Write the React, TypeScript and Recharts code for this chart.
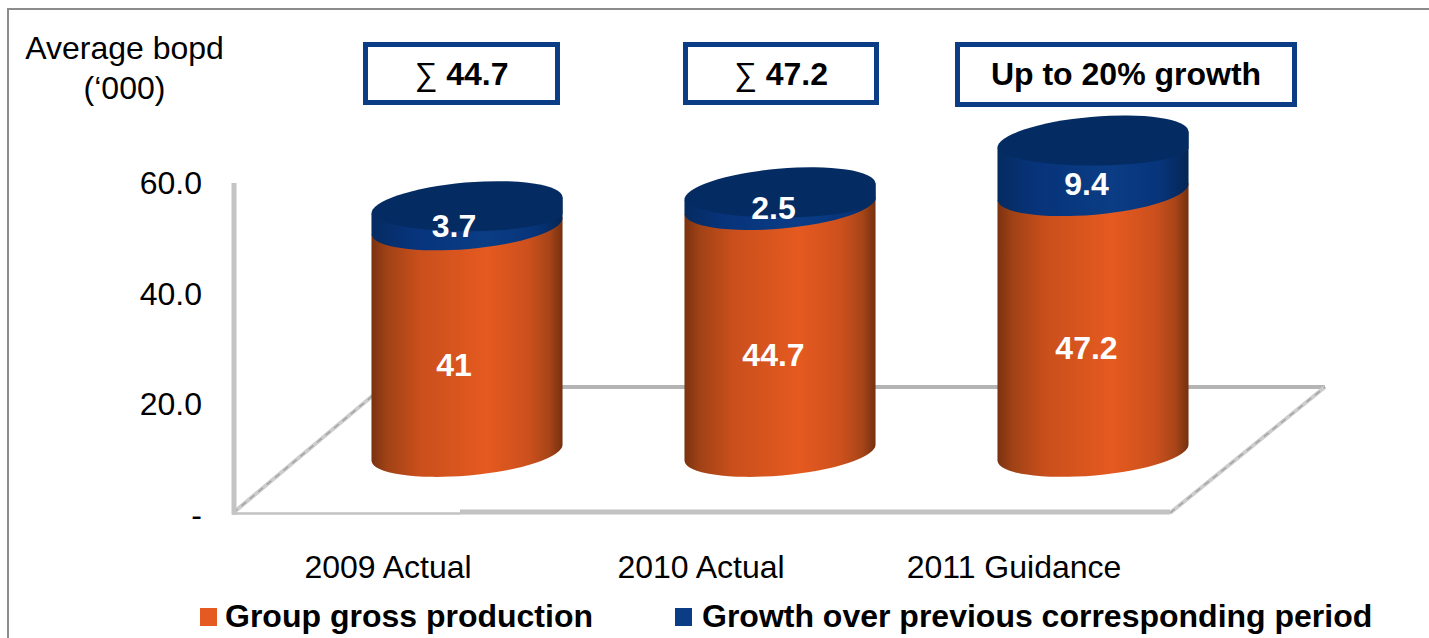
import { Bar, BarChart, LabelList, Legend, XAxis, YAxis } from "recharts";

const WIDTH = 1429;
const HEIGHT = 638;

const periods = ["2009 Actual", "2010 Actual", "2011 Guidance"];
const grossProduction = [41, 44.7, 47.2];
const growth = [3.7, 2.5, 9.4];
const yTicks = [0, 20, 40, 60];
const summaries = [
  { symbol: "∑ ", text: "44.7" },
  { symbol: "∑ ", text: "47.2" },
  { symbol: "", text: "Up to 20% growth" },
];

const data = periods.map((period, i) => ({
  period,
  gross: grossProduction[i],
  growth: growth[i],
}));

// header boxes above the cylinders
const boxFrames = [
  { x: 365.5, y: 44.5, w: 192, h: 58 },
  { x: 685.5, y: 44.5, w: 191, h: 58 },
  { x: 957.5, y: 44.5, w: 337, h: 60 },
];

const ORANGE = "#e55a20";
const BLUE = "#0a3d85";
const FLOOR = "#c2c2c2";

// the cylinders stand on the floor plane, above the axis baseline
const FLOOR_LIFT = 62;
const TILT = 5;
const RY = 23;

function ellipseEnds(cx: number, cy: number, rx: number) {
  const rad = (TILT * Math.PI) / 180;
  const dx = rx * Math.cos(rad);
  const dy = rx * Math.sin(rad);
  return { lx: cx - dx, ly: cy + dy, rx: cx + dx, ry: cy - dy };
}

function Cylinder(props: any) {
  const { x, y, width, height, gradient, capFill } = props;
  const a = width / 2 + 0.4;
  const cx = x + width / 2;
  const top = ellipseEnds(cx, y - FLOOR_LIFT, a);
  const bottom = ellipseEnds(cx, y + height - FLOOR_LIFT, a);
  const arc = `A${a} ${RY} ${-TILT}`;
  // side wall closes along the top chord; the next segment or the cap paints over it
  const side =
    `M${top.lx} ${top.ly} L${bottom.lx} ${bottom.ly} ` +
    `${arc} 0 0 ${bottom.rx} ${bottom.ry} L${top.rx} ${top.ry} Z`;
  // cap: tilted upper rim, flatter lower rim so the band stays visible on the right
  const cap =
    `M${top.lx} ${top.ly} ${arc} 0 1 ${top.rx} ${top.ry} ` +
    `L${top.rx} ${top.ly} A${a} 19 0 0 1 ${top.lx} ${top.ly} Z`;
  return (
    <g>
      <path d={side} fill={`url(#${gradient})`} />
      {capFill && <path d={cap} fill={capFill} />}
    </g>
  );
}

function valueLabel(yShift: (height: number) => number) {
  return function ValueLabel(props: any) {
    const { x, y, width, height, value, index } = props;
    return (
      <text
        x={x + width / 2 + (index === 0 ? -13 : -6.5)}
        y={y + height / 2 - FLOOR_LIFT + yShift(height)}
        dy="0.36em"
        textAnchor="middle"
        fontSize={32}
        fontWeight="bold"
        fill="#fff"
      >
        {value}
      </text>
    );
  };
}

const GrossLabel = valueLabel(() => 25);
const GrowthLabel = valueLabel((h) => 5.5 + h * 0.23);

function LegendRow({ payload }: any) {
  return (
    <div
      style={{
        display: "flex",
        alignItems: "center",
        height: 43,
        paddingLeft: 200,
        fontWeight: "bold",
        fontSize: 32,
        whiteSpace: "nowrap",
      }}
    >
      {(payload ?? []).map((entry: any, i: number) => (
        <span key={entry.value} style={{ display: "flex", alignItems: "center", marginRight: 82, color: "#000" }}>
          <span style={{ width: 17, height: 18, background: entry.color, marginRight: i === 0 ? 8 : 10 }} />
          {entry.value}
        </span>
      ))}
    </div>
  );
}

export default function App() {
  return (
    <div
      style={{
        position: "absolute",
        left: 0,
        top: 0,
        width: WIDTH,
        height: HEIGHT,
        overflow: "hidden",
        background: "#fff",
        fontFamily: '"Liberation Sans", Arial, sans-serif',
      }}
    >
      <BarChart
        width={WIDTH}
        height={HEIGHT}
        data={data}
        barSize={191}
        margin={{ top: 183, right: 100, bottom: 0, left: 0 }}
      >
        <defs>
          <linearGradient id="orangeSide" x1="0" x2="1" y1="0" y2="0">
            <stop offset="0" stopColor="#7a3210" />
            <stop offset="0.08" stopColor="#a04216" />
            <stop offset="0.25" stopColor="#c94f1c" />
            <stop offset="0.6" stopColor={ORANGE} />
            <stop offset="0.82" stopColor="#cc501d" />
            <stop offset="0.93" stopColor="#a84518" />
            <stop offset="1" stopColor="#75300f" />
          </linearGradient>
          <linearGradient id="blueSide" x1="0" x2="1" y1="0" y2="0">
            <stop offset="0" stopColor="#052b60" />
            <stop offset="0.2" stopColor="#07337a" />
            <stop offset="0.6" stopColor={BLUE} />
            <stop offset="0.85" stopColor="#07347a" />
            <stop offset="1" stopColor="#042656" />
          </linearGradient>
        </defs>

        {/* outer frame */}
        <path d="M8 638 L8 9 L1429 9" fill="none" stroke="#8c8c8c" strokeWidth={2} />

        {/* floor plane */}
        <line x1={383} y1={387} x2={1325} y2={387} stroke="#b4b4b4" strokeWidth={4} />
        <line x1={233} y1={513} x2={383} y2={387} stroke="#cdcdcd" strokeWidth={4} />
        <line x1={233} y1={513} x2={383} y2={387} stroke="#a6a6a6" strokeWidth={1.6} strokeDasharray="6 5" />
        <line x1={1170} y1={513} x2={1325} y2={387} stroke="#cdcdcd" strokeWidth={4} />
        <line x1={1170} y1={513} x2={1325} y2={387} stroke="#a6a6a6" strokeWidth={1.6} strokeDasharray="6 5" />
        <line x1={232} y1={513.6} x2={460} y2={513.6} stroke={FLOOR} strokeWidth={2.5} />
        <line x1={460} y1={512} x2={1170} y2={512} stroke={FLOOR} strokeWidth={5} />

        <XAxis
          dataKey="period"
          axisLine={false}
          tickLine={false}
          height={80.5}
          padding={{ left: 76.5, right: 79.5 }}
          tickMargin={35}
          interval={0}
          tick={{ fill: "#000", fontSize: 32, dx: -79 }}
        />
        <YAxis
          width={234}
          domain={[0, 60]}
          ticks={yTicks}
          interval={0}
          tickFormatter={(v: number) => (v === 0 ? "-" : v.toFixed(1))}
          axisLine={{ stroke: "#c4c4c4", strokeWidth: 5 }}
          tickLine={false}
          tickMargin={26}
          tick={{ fill: "#000", fontSize: 32 }}
        />

        <Bar
          dataKey="gross"
          name="Group gross production"
          stackId="a"
          fill={ORANGE}
          isAnimationActive={false}
          shape={(p: any) => <Cylinder {...p} gradient="orangeSide" />}
        >
          <LabelList dataKey="gross" content={GrossLabel} />
        </Bar>
        <Bar
          dataKey="growth"
          name="Growth over previous corresponding period"
          stackId="a"
          fill={BLUE}
          isAnimationActive={false}
          shape={(p: any) => <Cylinder {...p} gradient="blueSide" capFill="#052c62" />}
        >
          <LabelList dataKey="growth" content={GrowthLabel} />
        </Bar>

        <Legend
          verticalAlign="bottom"
          content={LegendRow}
          wrapperStyle={{ left: 0, bottom: 0, width: WIDTH, height: 43 }}
        />

        <text textAnchor="middle" fontSize={32} fill="#000">
          <tspan x={124.5} y={59}>Average bopd</tspan>
          <tspan x={124.5} y={99}>(‘000)</tspan>
        </text>

        {summaries.map((s, i) => (
          <g key={s.text}>
            <rect
              x={boxFrames[i].x}
              y={boxFrames[i].y}
              width={boxFrames[i].w}
              height={boxFrames[i].h}
              fill="#fff"
              stroke={BLUE}
              strokeWidth={5}
            />
            <text
              x={boxFrames[i].x + boxFrames[i].w / 2}
              y={85}
              textAnchor="middle"
              fontSize={32}
              fill="#000"
            >
              {s.symbol}
              <tspan fontWeight="bold">{s.text}</tspan>
            </text>
          </g>
        ))}
      </BarChart>
    </div>
  );
}
